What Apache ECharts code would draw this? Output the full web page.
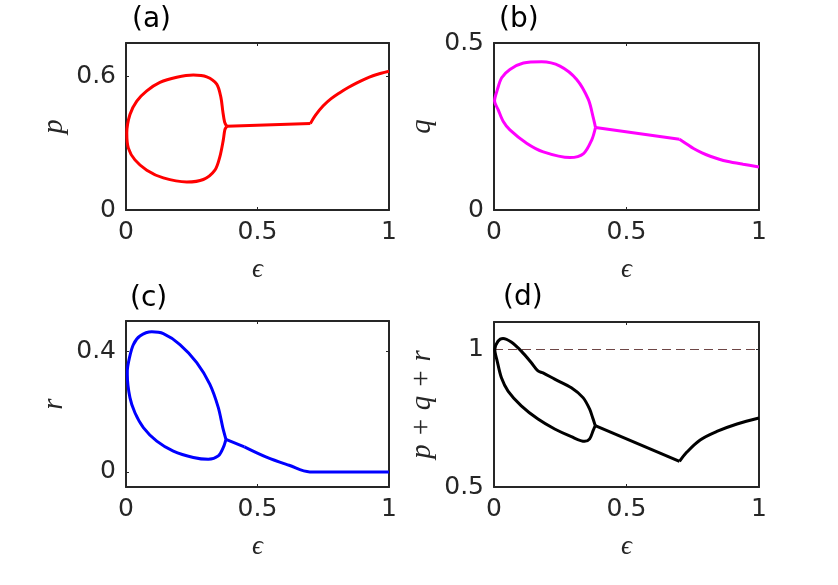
<!DOCTYPE html>
<html>
<head>
<meta charset="utf-8">
<script src="https://cdn.jsdelivr.net/npm/echarts@6/dist/echarts.min.js"></script>
<style>
  html, body { margin: 0; padding: 0; background: #fff; }
  #main { width: 838px; height: 585px; }
</style>
</head>
<body>
<div id="main"></div>
<script>
// each panel: loop = junction -> lower branch back to eps 0 -> upper branch -> junction
//             tail = junction -> kink at 0.7 -> eps 1

// (a) p
var pLoopEps = [0.383, 0.376, 0.370, 0.357, 0.338, 0.294, 0.231, 0.142, 0.079, 0.034, 0.009, 0.003,
                0.015, 0.041, 0.079, 0.129, 0.193, 0.256, 0.307, 0.345, 0.361, 0.368, 0.375, 0.383];
var pLoopVal = [0.376, 0.361, 0.315, 0.240, 0.179, 0.137, 0.126, 0.144, 0.179, 0.225, 0.278, 0.346,
                0.429, 0.489, 0.535, 0.573, 0.596, 0.606, 0.598, 0.565, 0.505, 0.444, 0.395, 0.376];
var pTailEps = [0.383, 0.701, 0.72, 0.749, 0.78, 0.813, 0.845, 0.876, 0.908, 0.939, 0.97, 1];
var pTailVal = [0.376, 0.388, 0.425, 0.467, 0.500, 0.527, 0.550, 0.570, 0.588, 0.603, 0.614, 0.623];

// (b) q
var qLoopEps = [0.383, 0.369, 0.338, 0.287, 0.186, 0.123, 0.06, 0.035, 0.016, 0.002,
                0.013, 0.029, 0.06, 0.111, 0.18, 0.249, 0.312, 0.356, 0.375, 0.383];
var qLoopVal = [0.247, 0.210, 0.169, 0.157, 0.174, 0.200, 0.240, 0.265, 0.300, 0.326,
                0.361, 0.396, 0.421, 0.440, 0.444, 0.431, 0.391, 0.331, 0.275, 0.247];
var qTailEps = [0.383, 0.700, 0.73, 0.753, 0.785, 0.816, 0.85, 0.879, 0.94, 1];
var qTailVal = [0.247, 0.212, 0.196, 0.184, 0.171, 0.161, 0.152, 0.146, 0.137, 0.129];

// (c) r
var rLoopEps = [0.380, 0.370, 0.351, 0.313, 0.256, 0.180, 0.117, 0.066, 0.034, 0.015, 0.005,
                0.005, 0.013, 0.028, 0.053, 0.098, 0.142, 0.205, 0.269, 0.319, 0.351, 0.368, 0.380];
var rLoopVal = [0.108, 0.081, 0.053, 0.042, 0.048, 0.069, 0.102, 0.147, 0.196, 0.246, 0.323,
                0.334, 0.378, 0.422, 0.450, 0.464, 0.458, 0.422, 0.362, 0.290, 0.213, 0.147, 0.108];
var rTailEps = [0.380, 0.45, 0.534, 0.62, 0.699, 1];
var rTailVal = [0.108, 0.083, 0.049, 0.022, 0.0, 0.0];

// (d) p+q+r
var sLoopEps = [0.382, 0.374, 0.361, 0.342, 0.292, 0.229, 0.166, 0.103, 0.053, 0.028, 0.012, 0.003,
                0.015, 0.034, 0.065, 0.103, 0.141, 0.166, 0.185, 0.229, 0.292, 0.336, 0.361, 0.374, 0.382];
var sLoopVal = [0.723, 0.705, 0.675, 0.666, 0.683, 0.711, 0.747, 0.795, 0.849, 0.897, 0.958, 1.0,
                1.03, 1.04, 1.027, 0.994, 0.952, 0.922, 0.915, 0.892, 0.861, 0.825, 0.783, 0.747, 0.723];
var sTailEps = [0.382, 0.700, 0.728, 0.778, 0.841, 0.917, 1];
var sTailVal = [0.723, 0.593, 0.627, 0.671, 0.702, 0.729, 0.751];
var refLine = [1, 1];

var panels = [
  {tag: '(a)', name: 'p', loop: [pLoopEps, pLoopVal], tail: [pTailEps, pTailVal],
   min: 0, max: 0.75, ticks: [0, 0.6], color: '#ff0000',
   grid: {left: 126, top: 43, width: 263, height: 167}, title: [132, 6]},
  {tag: '(b)', name: 'q', loop: [qLoopEps, qLoopVal], tail: [qTailEps, qTailVal],
   min: 0, max: 0.5, ticks: [0, 0.5], color: '#ff00ff',
   grid: {left: 494, top: 43, width: 265, height: 167}, title: [499, 6]},
  {tag: '(c)', name: 'r', loop: [rLoopEps, rLoopVal], tail: [rTailEps, rTailVal],
   min: -0.05, max: 0.5, ticks: [0, 0.4], color: '#0000ff',
   grid: {left: 126, top: 321, width: 263, height: 166}, title: [130, 285]},
  {tag: '(d)', name: 'p + q + r', loop: [sLoopEps, sLoopVal], tail: [sTailEps, sTailVal],
   min: 0.5, max: 1.1, ticks: [0.5, 1], color: '#000000',
   grid: {left: 494, top: 322, width: 265, height: 165}, title: [503, 284]}
];

var ink = '#262626';
var tickFont = {fontFamily: 'DejaVu Sans', fontSize: 25, color: ink};
var serif = "'Liberation Serif', 'DejaVu Serif'";

function pairs(xs, ys) {
  return xs.map(function (x, k) { return [x, ys[k]]; });
}

function curve(i, data, color, smooth) {
  return {
    type: 'line', xAxisIndex: i * 2, yAxisIndex: i * 2, showSymbol: false, smooth: smooth,
    data: data, lineStyle: {color: color, width: 3}
  };
}

var option = {grid: [], xAxis: [], yAxis: [], series: [], title: [], animation: false};

panels.forEach(function (p, i) {
  option.grid.push(p.grid);
  option.title.push({
    text: p.tag, left: p.title[0], top: p.title[1], padding: 0,
    textStyle: {fontFamily: 'DejaVu Sans', fontSize: 28, fontWeight: 'normal', color: '#000'}
  });
  ['bottom', 'top'].forEach(function (pos) {
    option.xAxis.push({
      type: 'value', gridIndex: i, position: pos, min: 0, max: 1, interval: 0.5,
      name: pos === 'bottom' ? 'ϵ' : '', nameLocation: 'middle', nameGap: 46,
      nameTextStyle: {fontFamily: serif, fontStyle: 'italic', fontSize: 27, color: ink},
      axisLine: {show: true, onZero: false, lineStyle: {color: ink, width: 2}},
      axisTick: {show: true, inside: true, length: 3, lineStyle: {color: ink}},
      axisLabel: {show: pos === 'bottom', margin: 10, textStyle: tickFont},
      splitLine: {show: false}
    });
  });
  ['left', 'right'].forEach(function (pos) {
    option.yAxis.push({
      type: 'value', gridIndex: i, position: pos, min: p.min, max: p.max,
      name: pos === 'left' ? p.name : '', nameLocation: 'middle', nameGap: 57, nameRotate: 90,
      nameTextStyle: {fontFamily: serif, fontStyle: 'italic', fontSize: 29, color: ink},
      axisLine: {show: true, onZero: false, lineStyle: {color: ink, width: 2}},
      axisTick: {show: true, inside: true, length: 3, customValues: p.ticks, lineStyle: {color: ink}},
      axisLabel: {show: pos === 'left', margin: 10, customValues: p.ticks,
                  textStyle: tickFont, formatter: function (v) { return String(v); }},
      splitLine: {show: false}
    });
  });
  var tail = pairs(p.tail[0], p.tail[1]);
  option.series.push(curve(i, pairs(p.loop[0], p.loop[1]), p.color, 0.3));
  option.series.push(curve(i, tail.slice(0, 2), p.color, false));   // straight link to the kink
  option.series.push(curve(i, tail.slice(1), p.color, 0.35));       // smooth part after the kink
});

// dashed reference line at 1 in panel (d)
option.series.push({
  type: 'line', xAxisIndex: 6, yAxisIndex: 6, showSymbol: false, z: 1,
  data: [[0, refLine[0]], [1, refLine[1]]],
  lineStyle: {color: '#6e4646', width: 1, type: [9, 5]}
});

var chart = echarts.init(document.getElementById('main'));
chart.setOption(option);
</script>
</body>
</html>
